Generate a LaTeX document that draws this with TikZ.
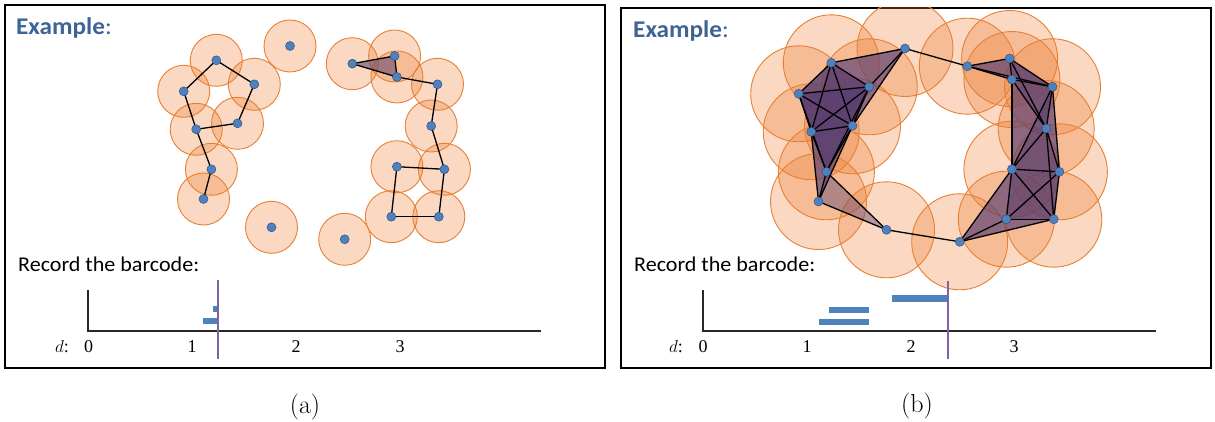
\documentclass[tikz,border=0pt]{standalone}
\usepackage{fontspec}
\newfontfamily\calfont[FakeStretch=1.05]{Carlito}
\newfontfamily\numfont{Liberation Serif}
\definecolor{ballfill}{RGB}{237,125,49}
\definecolor{balledge}{RGB}{232,128,52}
\definecolor{nodeblue}{RGB}{79,129,189}
\definecolor{nodeblueD}{RGB}{46,84,135}
\definecolor{simpc}{RGB}{88,62,115}
\definecolor{exblue}{RGB}{60,100,148}
\definecolor{cutpurple}{RGB}{128,100,162}
\definecolor{axisgray}{RGB}{40,40,40}
\tikzset{
  ballA/.style={fill=ballfill, fill opacity=0.3, draw=balledge, draw opacity=1, line width=0.9pt},
  simp/.style={fill=simpc, fill opacity=0.42},
  linkE/.style={draw=black, line width=1.3pt},
  vert/.style={circle, fill=nodeblue, draw=nodeblueD, line width=0.5pt, inner sep=0pt, minimum size=9pt},
  panelframe/.style={draw=black, line width=1.6pt},
  axisline/.style={draw=axisgray, line width=1.6pt},
  barbox/.style={fill=nodeblue},
  cutline/.style={draw=cutpurple, line width=1.8pt},
  titletext/.style={font=\calfont\fontsize{24}{26}\selectfont\bfseries, text=exblue, inner sep=0pt, anchor=base west},
  rectext/.style={font=\calfont\fontsize{21}{24}\selectfont, inner sep=0pt, anchor=base west},
  ticktext/.style={font=\numfont\fontsize{18}{21}\selectfont, inner sep=0pt, anchor=base},
  captext/.style={font=\fontsize{26}{29}\selectfont, inner sep=0pt}
}
\begin{document}
\begin{tikzpicture}[x=1pt,y=-1pt]
\useasboundingbox (0,0) rectangle (1215,422);
\def\pts{1/216.3/60.3, 2/183.7/91.3, 3/254.3/84.3, 4/196.2/129.3, 5/237.5/123.3, 6/211.4/169.3, 7/203.5/199, 8/290/46, 9/271.5/227.3, 10/344.7/239.3, 11/352.3/63.7, 12/394.6/56, 13/396.9/77, 14/437.5/84.3, 15/431.2/126, 16/444.4/169.3, 17/396.9/166.7, 18/391.3/216.7, 19/438.8/216.7}
\foreach \i/\x/\y in \pts {
  \coordinate (a\i) at (\x,\y);
  \coordinate (b\i) at (\x+615,\y+2.5);
}
% frames
\draw[panelframe] (5,5) rectangle (605,368);
\draw[panelframe] (621,8) rectangle (1211,368);

% ---------- panel (a) ----------
\foreach \i in {1,...,19} \draw[ballA] (a\i) circle[radius=26];
\fill[simp, fill opacity=0.55] (a11) -- (a12) -- (a13) -- cycle;
\foreach \u/\v in {1/3,1/2,2/4,4/5,5/3,4/6,6/7,11/12,11/13,12/13,13/14,14/15,15/16,16/17,17/18,18/19,19/16}
  \draw[linkE] (a\u) -- (a\v);
\foreach \i in {1,...,19} \node[vert] (na\i) at (a\i) {};

\node[titletext] (exa) at (16,35) {Example\mdseries:};
\node[rectext] (reca) at (18,271) {Record the barcode:};
\coordinate (aytop) at (88,290);
\coordinate (aorig) at (88,331);
\coordinate (axend) at (541,331);
\draw[axisline] (aytop) -- (aorig) -- (axend);
\fill[barbox] (213,306) rectangle (218.5,312);
\fill[barbox] (203,318) rectangle (218.5,324);
\coordinate (acut1) at (218,280);
\coordinate (acut2) at (218,359);
\draw[cutline] (acut1) -- (acut2);
\node[ticktext] (ad) at (62,352) {$d$:};
\node[ticktext] (a0) at (88.5,352) {0};
\node[ticktext] (a1t) at (192,352) {1};
\node[ticktext] (a2t) at (296,352) {2};
\node[ticktext] (a3t) at (400,352) {3};

% ---------- panel (b) ----------
\begin{scope}
  \clip (621,8) rectangle (1211,368);
  \foreach \i in {1,...,19} \draw[ballA] (b\i) circle[radius=48];
\end{scope}
\foreach \u/\v/\w in {1/2/3,1/2/4,1/2/5,1/3/4,1/3/5,1/4/5,2/3/4,2/3/5,2/4/5,3/4/5,
  1/3/8,1/5/8,3/5/8,
  2/4/6,2/5/6,2/3/6,3/5/6,4/5/6,3/4/6,
  4/5/7,4/6/7,5/6/7,6/7/9,
  10/17/18,10/17/19,10/18/19,
  11/12/13,11/12/14,11/13/14,12/13/14,
  12/13/15,12/14/15,13/14/15,
  13/14/17,13/15/17,14/15/17,
  14/15/16,14/16/17,15/16/17,
  15/16/19,15/17/19,16/17/19,
  16/17/18,16/18/19,17/18/19}
  \fill[simp] (b\u) -- (b\v) -- (b\w) -- cycle;
\foreach \u/\v in {1/2,1/3,1/4,1/5,1/8,2/3,2/4,2/5,2/6,3/4,3/5,3/6,3/8,4/5,4/6,4/7,5/6,5/7,5/8,6/7,6/9,7/9,8/11,9/10,
  10/17,10/18,10/19,11/12,11/13,11/14,12/13,12/14,12/15,13/14,13/15,13/17,14/15,14/16,14/17,15/16,15/17,15/19,16/17,16/18,16/19,17/18,17/19,18/19}
  \draw[linkE] (b\u) -- (b\v);
\foreach \i in {1,...,19} \node[vert] (nb\i) at (b\i) {};

\node[titletext] (exb) at (633,38) {Example\mdseries:};
\node[rectext] (recb) at (634,271) {Record the barcode:};
\coordinate (bytop) at (703,290);
\coordinate (borig) at (703,331);
\coordinate (bxend) at (1156,331);
\draw[axisline] (bytop) -- (borig) -- (bxend);
\fill[barbox] (892,295) rectangle (948,301.5);
\fill[barbox] (829,307) rectangle (869,313);
\fill[barbox] (818.5,318.5) rectangle (869,324.5);
\coordinate (bcut1) at (948,281);
\coordinate (bcut2) at (948,359);
\draw[cutline, line width=1.4pt] (bcut1) -- (bcut2);
\node[ticktext] (bd) at (676,352) {$d$:};
\node[ticktext] (b0) at (703,352) {0};
\node[ticktext] (b1t) at (807,352) {1};
\node[ticktext] (b2t) at (911,352) {2};
\node[ticktext] (b3t) at (1014,352) {3};

% captions
\node[captext] (capa) at (305,407) {(a)};
\node[captext] (capb) at (917,406) {(b)};
\end{tikzpicture}
\end{document}
